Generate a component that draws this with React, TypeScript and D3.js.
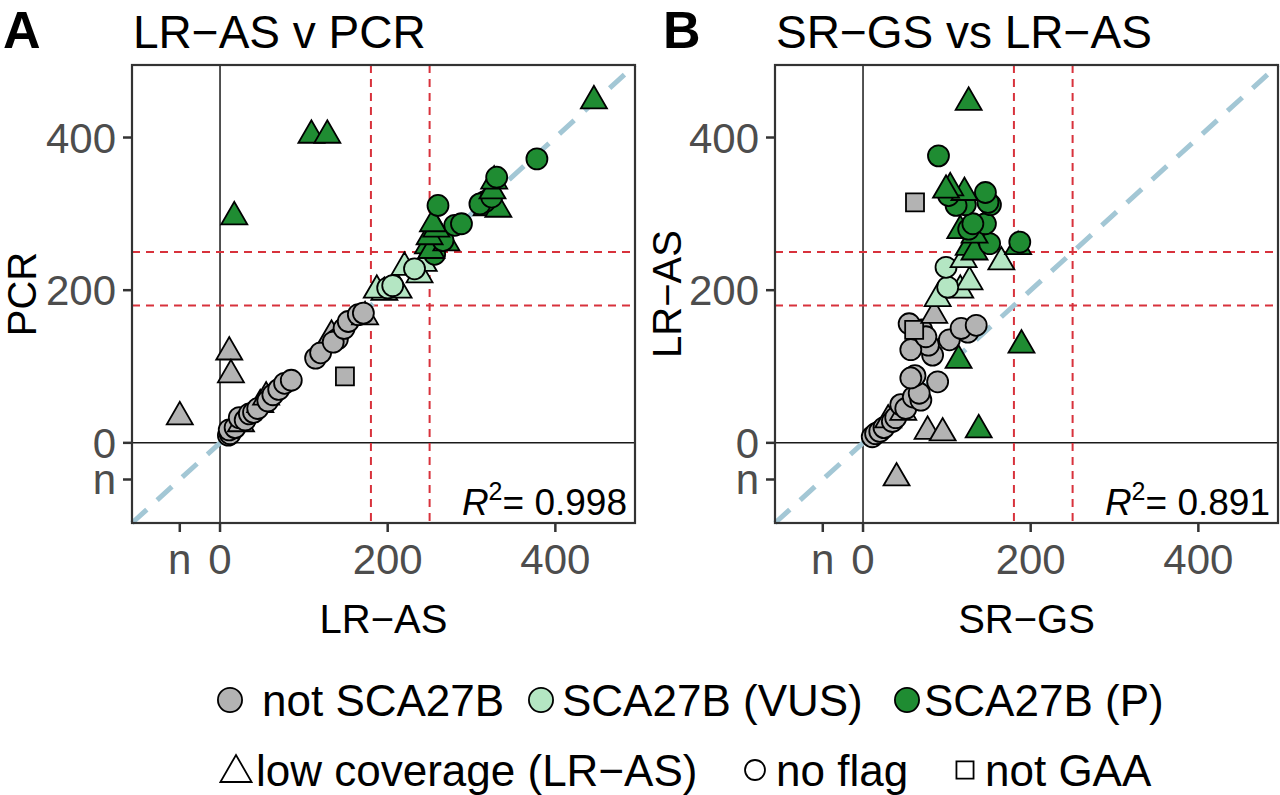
import React from "react";
import * as d3 from "d3";

// ---------- data ----------
const NA = -48; // position used for missing ("n") values
const tickValues = [NA, 0, 200, 400];
const tickLabels = ["n", "0", "200", "400"];
const thresholds = [180, 250];

// category: N = not SCA27B, V = SCA27B (VUS), P = SCA27B (P)
// flag: t = low coverage (LR-AS), c = no flag, s = not GAA
type Pt = [number, number, string, string];

// Panel A: x = LR-AS, y = PCR
const panelA: Pt[] = [
  [-48, 34, "N", "t"], [11, 119, "N", "t"], [13, 89, "N", "t"],
  [10, 10, "N", "c"], [12, 12, "N", "c"], [11, 17, "N", "c"], [18, 20, "N", "c"],
  [25, 25, "N", "t"], [23, 33, "N", "c"], [30, 30, "N", "c"], [35, 38, "N", "c"],
  [40, 40, "N", "c"], [48, 50, "N", "t"], [45, 45, "N", "c"], [55, 60, "N", "t"],
  [57, 55, "N", "c"], [63, 63, "N", "c"], [70, 70, "N", "c"], [77, 78, "N", "c"],
  [85, 82, "N", "c"], [149, 87, "N", "s"], [114, 111, "N", "c"], [120, 118, "N", "c"],
  [133, 141, "N", "t"], [140, 136, "N", "c"], [135, 132, "N", "c"], [148, 150, "N", "c"],
  [153, 159, "N", "c"], [173, 165, "N", "t"], [165, 168, "N", "c"], [171, 170, "N", "c"],
  [196, 197, "V", "t"], [187, 200, "V", "t"], [213, 200, "V", "t"], [200, 203, "V", "c"],
  [206, 206, "V", "c"], [238, 220, "V", "t"], [243, 235, "V", "t"], [220, 230, "V", "t"],
  [232, 228, "V", "c"],
  [256, 247, "P", "c"], [248, 258, "P", "t"], [252, 252, "P", "t"], [270, 262, "P", "t"],
  [266, 265, "P", "c"], [250, 270, "P", "t"], [258, 280, "P", "t"], [254, 287, "P", "t"],
  [280, 285, "P", "c"], [288, 287, "P", "c"], [260, 311, "P", "c"], [318, 308, "P", "t"],
  [332, 306, "P", "t"], [316, 316, "P", "c"], [310, 313, "P", "c"], [324, 322, "P", "c"],
  [325, 330, "P", "t"], [327, 343, "P", "t"], [330, 348, "P", "c"], [378, 372, "P", "c"],
  [446, 448, "P", "t"], [109, 403, "P", "t"], [128, 403, "P", "t"], [17, 296, "P", "t"],
];

// Panel B: x = SR-GS, y = LR-AS
const panelB: Pt[] = [
  [40, -46, "N", "t"], [77, 15, "N", "t"], [95, 13, "N", "t"],
  [11, 8, "N", "c"], [15, 12, "N", "c"], [20, 15, "N", "c"], [25, 20, "N", "c"],
  [30, 30, "N", "t"], [35, 28, "N", "c"], [39, 33, "N", "c"], [48, 40, "N", "t"],
  [45, 50, "N", "c"], [51, 45, "N", "c"], [60, 60, "N", "c"], [69, 56, "N", "c"],
  [67, 65, "N", "c"], [89, 80, "N", "c"], [62, 88, "N", "c"], [57, 85, "N", "c"],
  [83, 115, "N", "c"], [78, 128, "N", "c"], [57, 122, "N", "c"], [103, 135, "N", "c"],
  [125, 145, "N", "c"], [117, 150, "N", "c"], [135, 154, "N", "c"], [70, 148, "N", "c"],
  [75, 139, "N", "c"], [55, 156, "N", "c"], [61, 148, "N", "s"], [85, 167, "N", "t"],
  [62, 315, "N", "s"],
  [89, 189, "V", "t"], [116, 200, "V", "t"], [127, 211, "V", "t"], [101, 204, "V", "c"],
  [99, 230, "V", "c"], [120, 240, "V", "t"], [165, 237, "V", "t"],
  [114, 108, "P", "t"], [189, 128, "P", "t"], [138, 17, "P", "t"],
  [126, 256, "P", "t"], [133, 250, "P", "t"], [185, 257, "P", "t"], [187, 263, "P", "c"],
  [151, 261, "P", "c"], [133, 272, "P", "t"], [116, 278, "P", "t"], [126, 280, "P", "c"],
  [146, 287, "P", "c"], [131, 287, "P", "c"], [152, 312, "P", "c"], [149, 315, "P", "c"],
  [146, 328, "P", "c"], [122, 312, "P", "c"], [111, 311, "P", "c"], [102, 324, "P", "c"],
  [121, 328, "P", "t"], [104, 334, "P", "t"], [99, 331, "P", "t"], [90, 376, "P", "c"],
  [126, 446, "P", "t"],
];

const categoryNames = ["not SCA27B", "SCA27B (VUS)", "SCA27B (P)"];
const categoryKeys = ["N", "V", "P"];
const flagNames = ["low coverage (LR\u2212AS)", "no flag", "not GAA"];
const flagKeys = ["t", "c", "s"];

// ---------- styling ----------
const FONT = "'Liberation Sans', Arial, Helvetica, sans-serif";
const fillColor = d3.scaleOrdinal<string, string>().domain(categoryKeys).range(["#b3b3b3", "#b4e6c3", "#1f8c32"]);
const domain: [number, number] = [-105, 495];

function shapePath(shape: string, x: number, y: number, k = 1): string {
  if (shape === "t") {
    const w = 26 * k, h = 22.5 * k;
    return `M${x - w / 2},${y + h / 3}L${x + w / 2},${y + h / 3}L${x},${y - (2 * h) / 3}Z`;
  }
  if (shape === "s") {
    const s = 18 * k;
    return `M${x - s / 2},${y - s / 2}h${s}v${s}h${-s}Z`;
  }
  const r = 10.5 * k;
  return `M${x - r},${y}a${r},${r} 0 1,0 ${2 * r},0a${r},${r} 0 1,0 ${-2 * r},0Z`;
}

type PanelProps = {
  left: number; right: number; top: number; bottom: number;
  data: Pt[]; title: string; letter: string; letterX: number;
  xTitle: string; yTitle: string; yTitleX: number; r2: string;
};

function Panel(p: PanelProps) {
  const x = d3.scaleLinear().domain(domain).range([p.left, p.right]);
  const y = d3.scaleLinear().domain(domain).range([p.bottom, p.top]);
  const cx = (p.left + p.right) / 2;
  const cy = (p.top + p.bottom) / 2;
  return (
    <g>
      <text x={p.letterX} y={48} fontFamily={FONT} fontWeight="bold" fontSize={52} fill="#000">{p.letter}</text>
      <text x={p.left + 1} y={48} fontFamily={FONT} fontSize={46} fill="#000">{p.title}</text>
      <rect x={p.left} y={p.top} width={p.right - p.left} height={p.bottom - p.top} fill="#fff" />
      {/* zero lines */}
      <line x1={x(0)} x2={x(0)} y1={p.top} y2={p.bottom} stroke="#1a1a1a" strokeWidth={1.5} />
      <line x1={p.left} x2={p.right} y1={y(0)} y2={y(0)} stroke="#1a1a1a" strokeWidth={1.5} />
      {/* thresholds */}
      {thresholds.map((t) => (
        <g key={"th" + t}>
          <line x1={x(t)} x2={x(t)} y1={p.top} y2={p.bottom} stroke="#d8323c" strokeWidth={2} strokeDasharray="8,6" />
          <line x1={p.left} x2={p.right} y1={y(t)} y2={y(t)} stroke="#d8323c" strokeWidth={2} strokeDasharray="8,6" />
        </g>
      ))}
      {/* identity line */}
      <line x1={x(domain[0])} y1={y(domain[0])} x2={x(domain[1])} y2={y(domain[1])}
        stroke="#a3c7d5" strokeWidth={5} strokeDasharray="20,14" />
      {/* points */}
      {p.data.map((d, i) => (
        <path key={i} d={shapePath(d[3], x(d[0]), y(d[1]))} fill={fillColor(d[2])} stroke="#000" strokeWidth={1.8} />
      ))}
      {/* R2 */}
      <text x={p.right - 8} y={p.bottom - 8} textAnchor="end" fontFamily={FONT} fontSize={37} fill="#000">
        <tspan fontStyle="italic">R</tspan>
        <tspan fontSize={25} dy={-15}>2</tspan>
        <tspan dy={15}>{"= " + p.r2}</tspan>
      </text>
      {/* border */}
      <rect x={p.left} y={p.top} width={p.right - p.left} height={p.bottom - p.top} fill="none" stroke="#333" strokeWidth={2.2} />
      {/* ticks */}
      {tickValues.map((t, i) => (
        <g key={"xt" + i}>
          <line x1={x(t)} x2={x(t)} y1={p.bottom} y2={p.bottom + 9} stroke="#333" strokeWidth={2.5} />
          <text x={x(t)} y={574} textAnchor="middle" fontFamily={FONT} fontSize={42} fill="#4d4d4d">{tickLabels[i]}</text>
          <line x1={p.left - 9} x2={p.left} y1={y(t)} y2={y(t)} stroke="#333" strokeWidth={2.5} />
          <text x={p.left - 16} y={y(t) + 15} textAnchor="end" fontFamily={FONT} fontSize={42} fill="#4d4d4d">{tickLabels[i]}</text>
        </g>
      ))}
      <text x={cx} y={633} textAnchor="middle" fontFamily={FONT} fontSize={40} fill="#000">{p.xTitle}</text>
      <text transform={`translate(${p.yTitleX},${cy}) rotate(-90)`} textAnchor="middle" fontFamily={FONT} fontSize={40} fill="#000">{p.yTitle}</text>
    </g>
  );
}

function Legend() {
  const row1 = [230, 541, 907];
  const row1Text = [262, 562, 924];
  const row2 = [236, 755, 965];
  const row2Text = [256, 776, 985];
  return (
    <g fontFamily={FONT} fontSize={44} fill="#000">
      {categoryKeys.map((k, i) => (
        <g key={k}>
          <path d={shapePath("c", row1[i], 700, 1.15)} fill={fillColor(k)} stroke="#000" strokeWidth={1.8} />
          <text x={row1Text[i]} y={716}>{categoryNames[i]}</text>
        </g>
      ))}
      {flagKeys.map((k, i) => (
        <g key={k}>
          <path d={shapePath(k, row2[i], k === "t" ? 773 : 770, k === "t" ? 1.2 : 0.95)} fill="#fff" stroke="#000" strokeWidth={1.8} />
          <text x={row2Text[i]} y={786}>{flagNames[i]}</text>
        </g>
      ))}
    </g>
  );
}

export default function App() {
  return (
    <svg width={1280} height={795} style={{ position: "absolute", left: 0, top: 0, background: "#fff" }}>
      <rect width={1280} height={795} fill="#fff" />
      <Panel left={132} right={635} top={65} bottom={523} data={panelA}
        title={"LR\u2212AS v PCR"} letter="A" letterX={3} xTitle={"LR\u2212AS"} yTitle="PCR" yTitleX={36} r2="0.998" />
      <Panel left={775} right={1278} top={65} bottom={523} data={panelB}
        title={"SR\u2212GS vs LR\u2212AS"} letter="B" letterX={663} xTitle={"SR\u2212GS"} yTitle={"LR\u2212AS"} yTitleX={681} r2="0.891" />
      <Legend />
    </svg>
  );
}
